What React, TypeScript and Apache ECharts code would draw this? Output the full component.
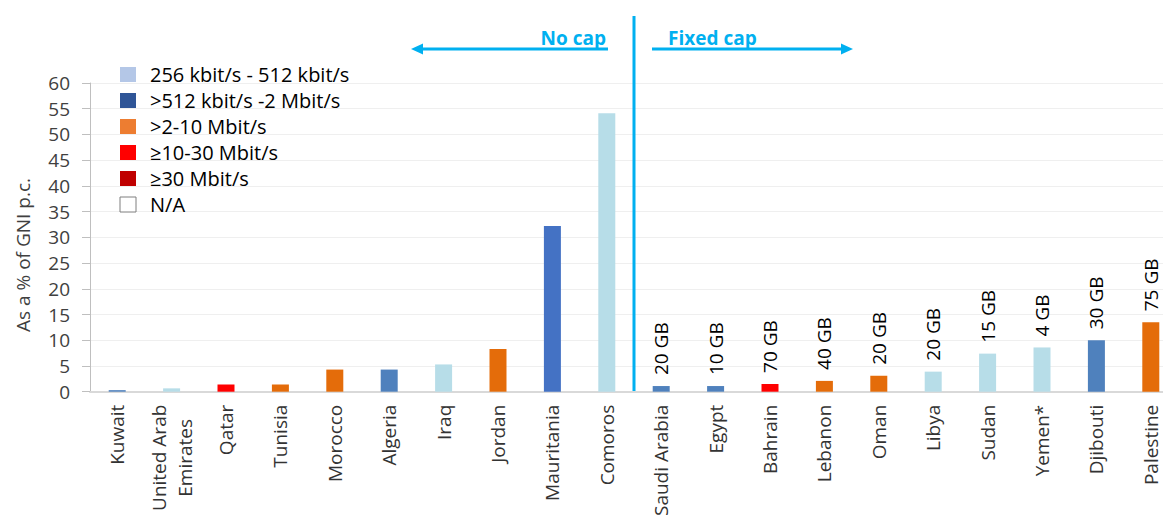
import React, { useEffect, useRef } from "react";
import * as echarts from "echarts";

const countries = [
  "Kuwait", "United Arab\nEmirates", "Qatar", "Tunisia", "Morocco", "Algeria", "Iraq", "Jordan",
  "Mauritania", "Comoros", "Saudi Arabia", "Egypt", "Bahrain", "Lebanon", "Oman", "Libya",
  "Sudan", "Yemen*", "Djibouti", "Palestine",
];
const values = [0.3, 0.65, 1.4, 1.4, 4.3, 4.3, 5.3, 8.3, 32.2, 54.1, 1.1, 1.1, 1.5, 2.1, 3.1, 3.9, 7.4, 8.6, 10.0, 13.5];
const barColors = [
  "#4f81bd", "#b7dde8", "#ff0000", "#e46c0a", "#e46c0a", "#4f81bd", "#b7dde8", "#e46c0a",
  "#4472c4", "#b7dde8", "#4f81bd", "#4f81bd", "#ff0000", "#e46c0a", "#e46c0a", "#b7dde8",
  "#b7dde8", "#b7dde8", "#4f81bd", "#e46c0a",
];
const capLabels = [
  "", "", "", "", "", "", "", "", "", "",
  "20 GB", "10 GB", "70 GB", "40 GB", "20 GB", "20 GB", "15 GB", "4 GB", "30 GB", "75 GB",
];
const yMin = 0;
const yMax = 60;
const yStep = 5;
const legendLabels = ["256 kbit/s - 512 kbit/s", ">512 kbit/s -2 Mbit/s", ">2-10 Mbit/s", "≥10-30 Mbit/s", "≥30 Mbit/s", "N/A"];
const legendColors = ["#b4c7e7", "#2f5597", "#ed7d31", "#ff0000", "#c00000", "#ffffff"];
const yAxisTitle = "As a % of GNI p.c.";
const leftNote = "No cap";
const rightNote = "Fixed cap";

const FONT = "'Open Sans', sans-serif";
const CYAN = "#00b0f0";

export default function App() {
  const ref = useRef<HTMLDivElement>(null);
  useEffect(() => {
    document.body.style.margin = "0";
    document.body.style.overflow = "hidden";
    const chart = echarts.init(ref.current!, null, { renderer: "svg" });
    chart.setOption({
      animation: false,
      grid: { left: 90, right: 0, top: 83, bottom: 126, containLabel: false },
      xAxis: {
        type: "category",
        data: countries,
        axisLine: { lineStyle: { color: "#d9d9d9", width: 2 } },
        axisTick: { length: 6, lineStyle: { color: "#d9d9d9", width: 2 } },
        axisLabel: {
          rotate: 90,
          interval: 0,
          margin: 13,
          fontSize: 19,
          fontFamily: FONT,
          color: "#333333",
          formatter: (v: string) =>
            v.includes("\n") ? v.split("\n").map((s) => `{c|${s}}`).join("\n") : v,
          rich: { c: { align: "center", fontSize: 19, fontFamily: FONT, color: "#333333", lineHeight: 26 } },
        },
      },
      yAxis: {
        type: "value",
        min: yMin,
        max: yMax,
        interval: yStep,
        axisLine: { show: true, lineStyle: { color: "#bfbfbf", width: 1 } },
        axisTick: { show: true, length: 8, lineStyle: { color: "#bfbfbf" } },
        axisLabel: { fontSize: 19, fontFamily: FONT, color: "#404040", margin: 20 },
        splitLine: { lineStyle: { color: "#efefef" } },
      },
      series: [
        {
          type: "bar",
          barWidth: 17,
          data: values.map((v, i) => ({
            value: v,
            itemStyle: { color: barColors[i] },
            label: {
              show: capLabels[i] !== "",
              formatter: capLabels[i],
              position: "top",
              rotate: 90,
              align: "left",
              verticalAlign: "middle",
              distance: 11,
              fontSize: 19,
              fontFamily: FONT,
              color: "#000000",
            },
          })),
        },
      ],
    });

    const xa = chart.convertToPixel({ xAxisIndex: 0 }, countries[9]) as number;
    const xb = chart.convertToPixel({ xAxisIndex: 0 }, countries[10]) as number;
    const mid = (xa + xb) / 2;
    const y0 = chart.convertToPixel({ yAxisIndex: 0 }, 0) as number;
    const ay = 49;

    const graphics: any[] = [
      { type: "line", shape: { x1: mid, y1: 16, x2: mid, y2: y0 }, style: { stroke: CYAN, lineWidth: 3 } },
      { type: "line", shape: { x1: mid - 26, y1: ay, x2: mid - 214, y2: ay }, style: { stroke: CYAN, lineWidth: 3 } },
      { type: "polygon", shape: { points: [[mid - 223, ay], [mid - 211, ay - 5.5], [mid - 211, ay + 5.5]] }, style: { fill: CYAN } },
      { type: "line", shape: { x1: mid + 18, y1: ay, x2: mid + 210, y2: ay }, style: { stroke: CYAN, lineWidth: 3 } },
      { type: "polygon", shape: { points: [[mid + 219, ay], [mid + 207, ay - 5.5], [mid + 207, ay + 5.5]] }, style: { fill: CYAN } },
      {
        type: "text", x: mid - 28, y: 38,
        style: { text: leftNote, fill: CYAN, font: `bold 19px ${FONT}`, textAlign: "right", textVerticalAlign: "middle" },
      },
      {
        type: "text", x: mid + 34, y: 38,
        style: { text: rightNote, fill: CYAN, font: `bold 19px ${FONT}`, textAlign: "left", textVerticalAlign: "middle" },
      },
      {
        type: "text", x: 23, y: 255, rotation: Math.PI / 2,
        style: { text: yAxisTitle, fill: "#404040", font: `19px ${FONT}`, textAlign: "center", textVerticalAlign: "middle" },
      },
    ];
    legendLabels.forEach((lab, i) => {
      const top = 67 + 26 * i;
      graphics.push({
        type: "rect",
        shape: { x: 120, y: top, width: 16, height: 15 },
        style: {
          fill: legendColors[i],
          stroke: legendColors[i] === "#ffffff" ? "#7f7f7f" : null,
          lineWidth: legendColors[i] === "#ffffff" ? 1 : 0,
        },
      });
      graphics.push({
        type: "text", x: 150, y: top + 7.5,
        style: { text: lab, fill: "#000000", font: `20px ${FONT}`, textAlign: "left", textVerticalAlign: "middle" },
      });
    });
    chart.setOption({ graphic: graphics });

    return () => chart.dispose();
  }, []);
  return <div ref={ref} style={{ width: 1178, height: 519 }} />;
}
